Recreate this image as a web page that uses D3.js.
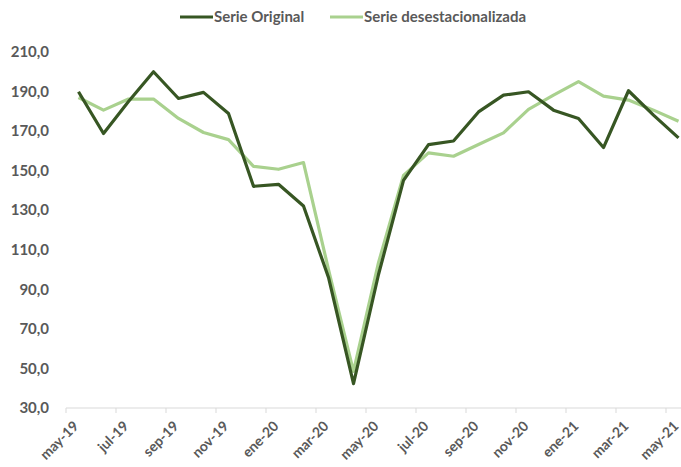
<!DOCTYPE html>
<html>
<head>
<meta charset="utf-8">
<script src="https://cdn.jsdelivr.net/npm/d3@7"></script>
<style>
  html, body { margin: 0; padding: 0; background: #ffffff; }
  svg { display: block; }
  text { font-family: Lato, "Open Sans", sans-serif; font-weight: bold; fill: #595959; }
</style>
</head>
<body>
<svg id="chart" width="681" height="467"></svg>
<script>
const months = ["may-19","jun-19","jul-19","ago-19","sep-19","oct-19","nov-19","dic-19",
  "ene-20","feb-20","mar-20","abr-20","may-20","jun-20","jul-20","ago-20","sep-20","oct-20",
  "nov-20","dic-20","ene-21","feb-21","mar-21","abr-21","may-21"];
const serieOriginal = [189.9,168.8,185.0,200.0,186.5,189.6,178.9,142.1,143.1,132.1,96.0,42.3,
  97.5,145.1,163.2,165.0,179.7,188.2,189.9,180.6,176.4,161.7,190.4,178.1,166.6];
const serieDesest = [187.0,180.6,186.2,186.2,176.4,169.3,165.7,152.2,150.7,154.1,100.0,48.5,
  103.5,147.6,159.0,157.3,163.2,169.1,181.0,188.2,195.0,187.7,185.7,180.6,175.0];
const yTicks = [30,50,70,90,110,130,150,170,190,210];
const seriesNames = ["Serie Original","Serie desestacionalizada"];
const colors = ["#375623","#a9d18e"];

const svg = d3.select("#chart");
const x = d3.scaleBand().domain(months).range([66, 691]);
const y = d3.scaleLinear().domain([30,210]).range([408, 52]);
const cx = d => x(d) + x.bandwidth()/2;

// Y labels
svg.append("g").selectAll("text").data(yTicks).join("text")
  .attr("x", 49).attr("y", d => y(d)).attr("dy","0.35em")
  .attr("text-anchor","end").style("font-size","15px")
  .text(d => d3.format(".1f")(d).replace(".", ","));

// X axis line and ticks
const axisG = svg.append("g");
axisG.append("line").attr("x1", 66).attr("x2", 691)
  .attr("y1", y(30)).attr("y2", y(30))
  .attr("stroke", "#d9d9d9").attr("stroke-width", 1);
const labelled = months.filter((m,i) => i % 2 === 0);
axisG.selectAll("line.tick").data(labelled).join("line").attr("class","tick")
  .attr("x1", d => x(d)).attr("x2", d => x(d))
  .attr("y1", y(30)).attr("y2", y(30)+5)
  .attr("stroke", "#d9d9d9").attr("stroke-width", 1);
axisG.selectAll("text").data(labelled).join("text")
  .attr("transform", d => `translate(${cx(d)+1},${y(30)+19}) rotate(-45)`)
  .attr("text-anchor","end").style("font-size","14px")
  .text(d => d);

// Lines
const line = d3.line().x((d,i) => cx(months[i])).y(d => y(d));
[serieDesest, serieOriginal].forEach((s, k) => {
  svg.append("path").datum(s)
    .attr("fill","none")
    .attr("stroke", k === 0 ? colors[1] : colors[0])
    .attr("stroke-width", 3.2)
    .attr("stroke-linejoin","round")
    .attr("d", line);
});

// Legend
const legX = [180, 330];
seriesNames.forEach((n, i) => {
  const g = svg.append("g");
  g.append("line").attr("x1", legX[i]).attr("x2", legX[i]+33)
    .attr("y1", 17).attr("y2", 17)
    .attr("stroke", colors[i]).attr("stroke-width", 3.2);
  g.append("text").attr("x", legX[i]+34).attr("y", 17).attr("dy","0.35em")
    .style("font-size","15px").text(n);
});
</script>
</body>
</html>
